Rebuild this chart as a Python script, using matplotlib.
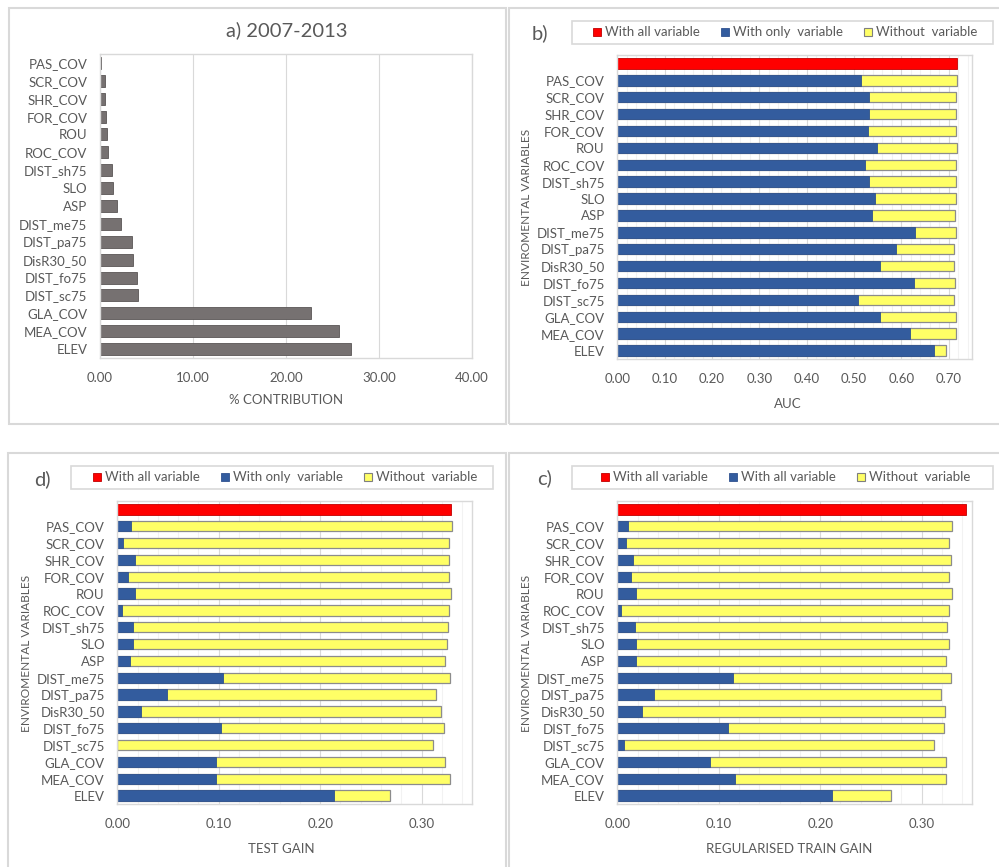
import matplotlib
matplotlib.use('Agg')
import matplotlib.pyplot as plt
from matplotlib.patches import Rectangle, Patch
from matplotlib.ticker import MultipleLocator, FormatStrFormatter
import numpy as np

plt.rcParams['font.family'] = ['Lato', 'DejaVu Sans']

# variables, listed top to bottom
variables = ['PAS_COV', 'SCR_COV', 'SHR_COV', 'FOR_COV', 'ROU', 'ROC_COV',
             'DIST_sh75', 'SLO', 'ASP', 'DIST_me75', 'DIST_pa75', 'DisR30_50',
             'DIST_fo75', 'DIST_sc75', 'GLA_COV', 'MEA_COV', 'ELEV']

# a) percent contribution
contribution = [0.10, 0.54, 0.54, 0.68, 0.79, 0.82, 1.25, 1.36, 1.83, 2.22,
                3.41, 3.58, 3.98, 4.05, 22.72, 25.77, 27.03]

# b) AUC jackknife
auc_all = 0.717
auc_only = [0.514, 0.532, 0.532, 0.529, 0.548, 0.524, 0.532, 0.545, 0.538,
            0.628, 0.588, 0.555, 0.626, 0.509, 0.554, 0.619, 0.669]
auc_without = [0.717, 0.716, 0.716, 0.716, 0.717, 0.716, 0.716, 0.716, 0.714,
               0.716, 0.711, 0.712, 0.714, 0.711, 0.716, 0.716, 0.695]

# d) test gain jackknife
test_all = 0.3286
test_only = [0.0138, 0.0053, 0.0174, 0.0102, 0.0174, 0.0046, 0.0151, 0.0151,
             0.0122, 0.1046, 0.0487, 0.0230, 0.1026, 0.0, 0.0977, 0.0977, 0.2135]
test_without = [0.3296, 0.3266, 0.3266, 0.3266, 0.3286, 0.3266, 0.3257, 0.3250,
                0.3230, 0.3276, 0.3145, 0.3194, 0.3224, 0.3109, 0.3230, 0.3276,
                0.2684]

# c) regularised training gain jackknife
train_all = 0.344
train_only = [0.0102, 0.0089, 0.0158, 0.0138, 0.0188, 0.0039, 0.0174, 0.0181,
              0.0181, 0.1145, 0.0365, 0.0243, 0.1089, 0.0066, 0.0918, 0.1164,
              0.2115]
train_without = [0.3296, 0.3266, 0.3286, 0.3273, 0.3296, 0.3273, 0.3253, 0.3273,
                 0.3237, 0.3286, 0.3188, 0.3230, 0.3217, 0.3118, 0.3237, 0.3243,
                 0.2701]

TXT = '#595959'
GRID = '#D9D9D9'
RED, BLUE, YELLOW = '#FF0000', '#335C9E', '#FFFF66'
FS = 9.5

W, H = 999, 867
fig = plt.figure(figsize=(W / 100, H / 100), dpi=100)


def fx(x):
    return x / W


def fy(y):
    return 1 - y / H


def px_axes(left, top, right, bottom):
    return fig.add_axes([fx(left), fy(bottom), (right - left) / W, (bottom - top) / H])


def frame(left, top, right, bottom, lw=1.5):
    fig.patches.append(Rectangle((fx(left), fy(bottom)), (right - left) / W,
                                 (bottom - top) / H, transform=fig.transFigure,
                                 fill=False, edgecolor='#D9D9D9', lw=lw))


def style(ax, xmax, major, minor=None):
    ax.set_xlim(0, xmax)
    ax.xaxis.set_major_locator(MultipleLocator(major))
    ax.xaxis.set_major_formatter(FormatStrFormatter('%.2f'))
    if minor:
        ax.xaxis.set_minor_locator(MultipleLocator(minor))
        ax.grid(axis='x', which='minor', color='#F2F2F2', lw=0.8)
    ax.grid(axis='x', which='major', color=GRID, lw=0.8)
    ax.set_axisbelow(True)
    for s in ax.spines.values():
        s.set_color(GRID)
        s.set_linewidth(1.0)
    ax.tick_params(length=0, which='both', colors=TXT, labelsize=FS)
    ax.tick_params(axis='y', pad=9)
    ax.tick_params(axis='x', pad=10)


# panel outlines
frame(9, 8, 506, 424)
frame(509, 8, 1010, 424)
frame(8, 453, 506, 880)
frame(509, 453, 1010, 880)

# a) contribution bars
ax_a = px_axes(100, 54, 471.7, 358)
y = np.arange(len(variables))
ax_a.barh(y, contribution, height=0.67, color='#767171', edgecolor='#5A5656', lw=0.6)
ax_a.set_ylim(len(variables) - 0.5, -0.5)
ax_a.set_yticks(y)
ax_a.set_yticklabels(variables)
style(ax_a, 40, 10)
fig.text(fx(286), fy(400), '% CONTRIBUTION', ha='center', va='center', fontsize=FS, color=TXT)
fig.text(fx(287), fy(30), 'a) 2007-2013', ha='center', va='center', fontsize=14.5, color=TXT)


def jackknife(ax, all_val, only, without, xmax, xlabel, xlabel_pos, ylabel_pos,
              tag, tag_pos, legend_box, only_label):
    rows = np.arange(len(variables) + 1)
    ax.barh(rows[1:], without, height=0.62, color=YELLOW, edgecolor='#8C8C8C', lw=0.9)
    ax.barh(rows[1:], only, height=0.62, color=BLUE, edgecolor='#2F528F', lw=0.6)
    ax.barh(rows[0], all_val, height=0.62, color=RED, edgecolor='#C00000', lw=0.6)
    ax.set_ylim(len(rows) - 0.5, -0.5)
    ax.set_yticks(rows)
    ax.set_yticklabels([''] + variables)
    style(ax, xmax, 0.1, 0.02)
    fig.text(fx(xlabel_pos[0]), fy(xlabel_pos[1]), xlabel, ha='center', va='center',
             fontsize=FS, color=TXT)
    fig.text(fx(ylabel_pos[0]), fy(ylabel_pos[1]), 'ENVIROMENTAL VARIABLES', ha='center',
             va='center', rotation=90, fontsize=8.6, color=TXT)

    lx0, ly0, lx1, ly1 = legend_box
    handles = [Patch(facecolor=RED, edgecolor='#C00000', lw=0.6),
               Patch(facecolor=BLUE, edgecolor='#2F528F', lw=0.6),
               Patch(facecolor=YELLOW, edgecolor='#7F7F7F', lw=0.8)]
    fig.legend(handles, ['With all variable', only_label, 'Without  variable'],
               ncol=3, loc='center',
               bbox_to_anchor=(fx((lx0 + lx1) / 2 + 3), fy((ly0 + ly1) / 2)),
               frameon=False, fontsize=FS, handlelength=0.6, handleheight=0.6,
               handletextpad=0.3, columnspacing=1.6, labelcolor=TXT)
    frame(lx0, ly0, lx1, ly1, lw=1.2)
    fig.text(fx(tag_pos[0]), fy(tag_pos[1]), tag, ha='center', va='center',
             fontsize=14.5, color=TXT)


ax_b = px_axes(617.3, 55, 972.3, 359)
jackknife(ax_b, auc_all, auc_only, auc_without, 0.75, 'AUC', (788, 404), (527, 207),
          'b)', (540, 33), (572, 21, 993, 44), 'With only  variable')

ax_d = px_axes(117.3, 501, 472.3, 804)
jackknife(ax_d, test_all, test_only, test_without, 0.35, 'TEST GAIN', (281, 849),
          (27, 653), 'd)', (42, 479), (71, 466, 493, 489), 'With only  variable')

ax_c = px_axes(617.3, 501, 972.3, 804)
jackknife(ax_c, train_all, train_only, train_without, 0.35, 'REGULARISED TRAIN GAIN',
          (789, 849), (527, 653), 'c)', (545, 478), (572, 466, 993, 489),
          'With all variable')

fig.savefig('out.png', dpi=100)
